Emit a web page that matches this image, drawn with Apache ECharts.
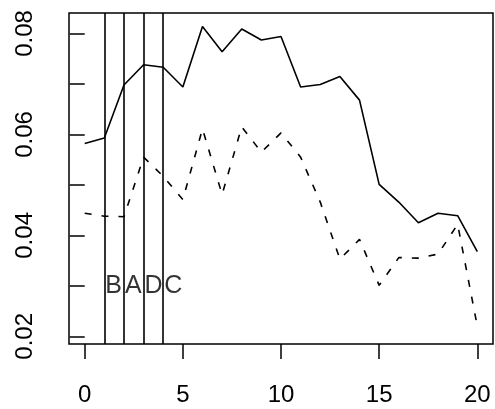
<!DOCTYPE html>
<html>
<head>
<meta charset="utf-8">
<script src="https://cdn.jsdelivr.net/npm/echarts@6/dist/echarts.min.js"></script>
<style>
  html, body { margin: 0; padding: 0; background: #fff; }
  #chart { width: 495px; height: 409px; }
</style>
</head>
<body>
<div id="chart"></div>
<script>
  // x positions 0..20
  var xs = [0, 1, 2, 3, 4, 5, 6, 7, 8, 9, 10, 11, 12, 13, 14, 15, 16, 17, 18, 19, 20]
  // solid line
  var solidVals = [0.0582, 0.0593, 0.0698, 0.0738, 0.0733, 0.0694, 0.0814, 0.0764, 0.0809, 0.0787, 0.0794,
    0.0694, 0.0699, 0.0715, 0.0668, 0.0501, 0.0466, 0.0425, 0.0444, 0.0439, 0.0368]
  // dashed line
  var dashVals = [0.0444, 0.0438, 0.0437, 0.0555, 0.0517, 0.0471, 0.0611, 0.0481, 0.0615, 0.0565, 0.0603,
    0.0555, 0.0466, 0.0353, 0.0392, 0.0301, 0.0356, 0.0355, 0.0363, 0.0422, 0.0220]
  // vertical lines and letters
  var vlines = [1, 2, 3, 4]
  var letters = ['B', 'A', 'D', 'C']
  var letterY = 0.03
  var xTicks = [0, 5, 10, 15, 20]
  var yTicks = [0.02, 0.03, 0.04, 0.05, 0.06, 0.07, 0.08]
  var yLabels = [0.02, 0.04, 0.06, 0.08]

  function pairs (a, b) {
    return a.map(function (v, i) { return [v, b[i]] })
  }

  var font = 'Liberation Sans, Arial, Helvetica, sans-serif'
  var chart = echarts.init(document.getElementById('chart'), null, { renderer: 'canvas' })
  chart.setOption({
    backgroundColor: '#fff',
    animation: false,
    grid: {
      left: 69, top: 13, right: 2, bottom: 65,
      show: true, borderColor: '#000', borderWidth: 1.5, backgroundColor: 'transparent'
    },
    xAxis: {
      type: 'value', min: -0.8, max: 20.8,
      axisLine: { show: false },
      splitLine: { show: false },
      axisTick: { show: true, length: 15, customValues: xTicks, lineStyle: { color: '#000', width: 1.5 } },
      axisLabel: {
        customValues: xTicks, margin: 39, color: '#000', fontSize: 24, fontFamily: font
      }
    },
    yAxis: {
      type: 'value', min: 0.01848, max: 0.08406,
      axisLine: { show: false },
      splitLine: { show: false },
      axisTick: { show: true, length: 15, customValues: yTicks, lineStyle: { color: '#000', width: 1.5 } },
      axisLabel: {
        customValues: yLabels, rotate: 90, margin: 32, color: '#000', fontSize: 24, fontFamily: font,
        formatter: function (v) { return v.toFixed(2) }
      }
    },
    series: [
      {
        type: 'line', data: pairs(xs, solidVals), symbol: 'none',
        lineStyle: { color: '#000', width: 1.6 },
        markLine: {
          silent: true, symbol: 'none', label: { show: false },
          lineStyle: { color: '#000', width: 1.6, type: 'solid' },
          data: vlines.map(function (v) { return { xAxis: v } })
        }
      },
      {
        type: 'line', data: pairs(xs, dashVals), symbol: 'none',
        lineStyle: { color: '#000', width: 1.6, type: [7, 10] }
      },
      {
        type: 'scatter', symbolSize: 0,
        data: vlines.map(function (v, i) { return { value: [v, letterY], name: letters[i] } }),
        label: {
          show: true, position: 'right', distance: 1,
          formatter: function (p) { return p.name },
          color: '#000', fontSize: 25, fontFamily: font
        }
      }
    ]
  })
</script>
</body>
</html>
